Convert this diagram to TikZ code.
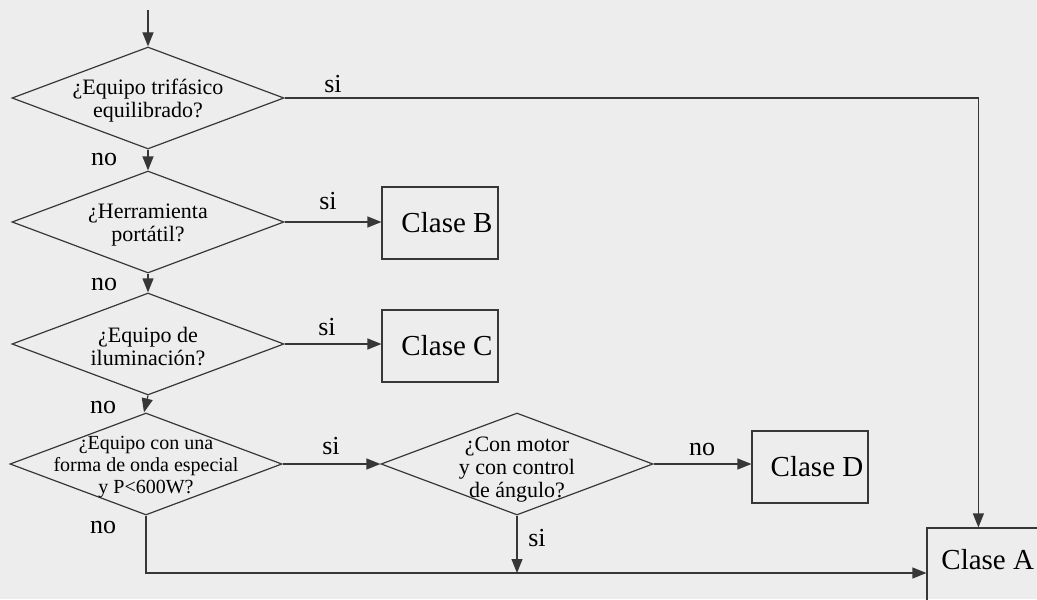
\documentclass[tikz,border=0pt]{standalone}
\usepackage{fontspec}
\setmainfont{Liberation Serif}
\usetikzlibrary{shapes.geometric,arrows.meta}
\definecolor{bg}{RGB}{237,237,237}
\definecolor{ln}{RGB}{55,55,55}
\begin{document}
\begin{tikzpicture}[x=0.5pt,y=-0.5pt,
  dia/.style={draw=ln,line width=0.6pt,diamond,minimum width=136pt,minimum height=51pt,inner sep=0pt},
  dtext/.style={align=center,inner sep=0pt,font=\fontsize{11}{11.5}\selectfont},
  stext/.style={align=center,inner sep=0pt,font=\fontsize{10}{11.2}\selectfont},
  box/.style={draw=ln,line width=0.6pt,minimum width=58pt,minimum height=36pt,inner sep=0pt,font=\fontsize{14.5}{17}\selectfont},
  lab/.style={inner sep=0pt,font=\fontsize{13}{15}\selectfont},
  arr/.style={draw=ln,line width=0.6pt,-{Triangle[length=7pt,width=5.5pt]}},
  ln/.style={draw=ln,line width=0.6pt}]
\fill[bg] (0,0) rectangle (1037,599);
\useasboundingbox (0,0) rectangle (1037,599);
\clip (0,0) rectangle (1037,599);

% decisions
\node[dia] (d1) at (148,98) {};
\node[dtext] (t1) at (148,101) {¿Equipo trifásico\\equilibrado?};
\node[dia] (d2) at (148,222) {};
\node[dtext] (t2) at (148,225) {¿Herramienta\\portátil?};
\node[dia] (d3) at (148,344) {};
\node[dtext] (t3) at (148,347) {¿Equipo de\\iluminación?};
\node[dia] (d4) at (146,464) {};
\node[stext] (t4) at (146,467) {¿Equipo con una\\forma de onda especial\\y P<600W?};
\node[dia] (d5) at (517,464) {};
\node[dtext] (t5) at (517,470) {¿Con motor\\y con control\\de ángulo?};

% classes
\node[box] (cb) at (440,223) {\hspace{7pt}Clase B};
\node[box] (cc) at (440,346) {\hspace{7pt}Clase C};
\node[box] (cd) at (810,467) {\hspace{7pt}Clase D};
\node[draw=ln,line width=0.6pt,minimum width=85pt,minimum height=45pt,inner sep=0pt] (ca) at (1012,573) {};
\node[inner sep=0pt,font=\fontsize{14.5}{17}\selectfont,anchor=west] (ta) at (941,560) {Clase A};

% connectors
\coordinate (start) at (148,10);
\draw[arr] (start) -- (d1.north);
\draw[arr] (d1.south) -- (d2.north);
\draw[arr] (d2.south) -- (d3.north);
\draw[arr] (d3.south) -- ([xshift=-1pt]d4.north);
\draw[arr] (d1.east) -| ([xshift=26pt]ca.north west);
\draw[arr] (d2.east) -- (d2.east -| cb.west);
\draw[arr] (d3.east) -- (d3.east -| cc.west);
\draw[arr] (d4.east) -- (d5.west);
\draw[arr] (d5.east) -- (d5.east -| cd.west);
\draw[arr] (d4.south) |- (ca.west);
\draw[arr] (d5.south) -- (d5.south |- ca.west);

% labels
\node[lab] (s1) at (333,84) {si};
\node[lab] (s2) at (328,201) {si};
\node[lab] (s3) at (327,327) {si};
\node[lab] (s4) at (331,446) {si};
\node[lab] (s5) at (537,538) {si};
\node[lab] (n1) at (104,160) {no};
\node[lab] (n2) at (104,284) {no};
\node[lab] (n3) at (103,407) {no};
\node[lab] (n4) at (103,527) {no};
\node[lab] (n5) at (702,449) {no};
\end{tikzpicture}
\end{document}
